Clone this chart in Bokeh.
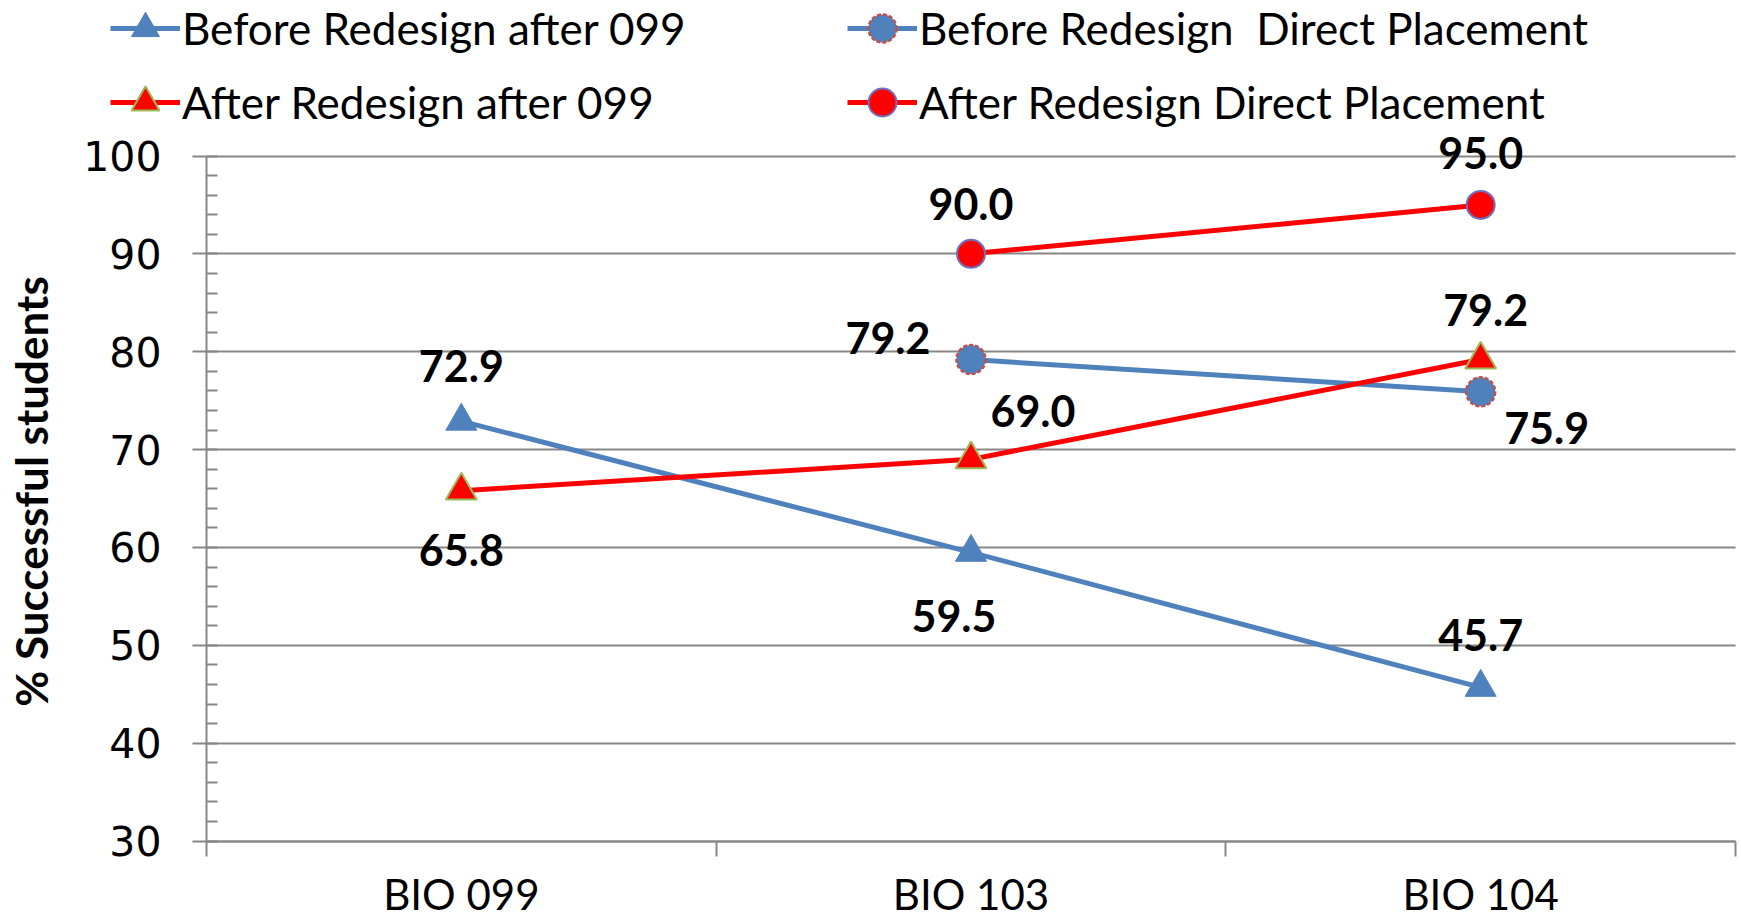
from bokeh.plotting import figure
from bokeh.models import (ColumnDataSource, Range1d, Legend, LegendItem, FixedTicker,
                          SingleIntervalTicker, Label)
from bokeh.core.properties import value
from bokeh.embed import file_html
from bokeh.resources import INLINE

# ---------------- data ----------------
categories = ["BIO 099", "BIO 103", "BIO 104"]
before_after099 = [72.9, 59.5, 45.7]
after_after099 = [65.8, 69.0, 79.2]
before_direct = [None, 79.2, 75.9]
after_direct = [None, 90.0, 95.0]
series_names = ["Before Redesign after 099", "Before Redesign  Direct Placement",
                "After Redesign after 099", "After Redesign Direct Placement"]
y_title = "% Successful students"
y_min, y_max, y_step = 30, 100, 10

# ---------------- layout / style ----------------
W, H = 1741, 921
AX_Y0 = 840.5   # screen px of y_min
AX_Y1 = 155.5   # screen px of y_max
AX_X0 = 206     # screen px of left edge of first category
AX_X1 = 1735    # screen px of right edge of last category
n = len(categories)
ppu = (AX_Y0 - AX_Y1) / (y_max - y_min)
y_start = y_min - (H - AX_Y0) / ppu
y_end = y_max + AX_Y1 / ppu
ppx = (AX_X1 - AX_X0) / n
x_start = -AX_X0 / ppx
x_end = n + (W - AX_X1) / ppx

GRAY = "#878787"
BLUE = "#4F81BD"
RED = "#FF0000"
LBL_FONT = "Lato"

# label offsets in screen px (dx, dy) for each point of each series
off_before_after099 = [(0, -55), (-17, 64), (0, -52)]
off_after_after099 = [(0, 59), (62, -48), (5, -50)]
off_before_direct = [None, (-83, -22), (66, 36)]
off_after_direct = [None, (0, -50), (0, -52)]

p = figure(width=W, height=H, output_backend="svg", toolbar_location=None,
           x_range=Range1d(x_start, x_end), y_range=Range1d(y_start, y_end),
           min_border_left=0, min_border_right=0, min_border_top=0, min_border_bottom=0)
p.outline_line_color = None
p.background_fill_color = "white"
p.border_fill_color = "white"
p.xgrid.visible = False

# x axis (category axis: labels at centers, ticks at boundaries)
xa = p.xaxis[0]
xa.fixed_location = y_min
xa.bounds = (0, n)
xa.ticker = FixedTicker(ticks=[i + 0.5 for i in range(n)], minor_ticks=list(range(n + 1)))
xa.major_label_overrides = {i + 0.5: c for i, c in enumerate(categories)}
xa.major_tick_out = 0
xa.major_tick_in = 0
xa.minor_tick_out = 15
xa.minor_tick_in = 0
xa.minor_tick_line_color = GRAY
xa.minor_tick_line_width = 2
xa.axis_line_color = GRAY
xa.axis_line_width = 2
xa.major_label_text_font = LBL_FONT
xa.major_label_text_font_size = "42px"
xa.major_label_text_color = "black"
xa.major_label_standoff = 13

# y axis
ya = p.yaxis[0]
ya.fixed_location = 0
ya.ticker = SingleIntervalTicker(interval=y_step, num_minor_ticks=5)
ya.bounds = (y_min, y_max)
ya.major_tick_out = 14
ya.major_tick_in = 0
ya.minor_tick_in = 11
ya.minor_tick_out = 0
ya.major_tick_line_color = GRAY
ya.major_tick_line_width = 2
ya.minor_tick_line_color = GRAY
ya.minor_tick_line_width = 2
ya.axis_line_color = GRAY
ya.axis_line_width = 2
ya.major_label_text_font = "DejaVu Sans"
ya.major_label_text_font_size = "41px"
ya.major_label_text_color = "black"
ya.major_label_standoff = 31

p.ygrid.ticker = ya.ticker
p.ygrid.bounds = (y_min, y_max)
p.ygrid.cross_bounds = (0, n)
p.ygrid.grid_line_color = GRAY
p.ygrid.grid_line_width = 2

# y axis title
p.add_layout(Label(x=30, y=H - 491, x_units="screen", y_units="screen", text=y_title,
                   angle=90, angle_units="deg", text_align="center", text_baseline="middle",
                   text_font=LBL_FONT, text_font_style="bold", text_font_size="44px",
                   text_color="black"))


def series(vals, offs):
    xs, ys, txt, dx, dy = [], [], [], [], []
    for i, v in enumerate(vals):
        if v is None:
            continue
        xs.append(i + 0.5)
        ys.append(v)
        txt.append(f"{v:.1f}")
        dx.append(offs[i][0])
        dy.append(offs[i][1])
    return ColumnDataSource(dict(x=xs, y=ys, text=txt, dx=dx, dy=dy))


src_b99 = series(before_after099, off_before_after099)
src_bd = series(before_direct, off_before_direct)
src_a99 = series(after_after099, off_after_after099)
src_ad = series(after_direct, off_after_direct)

l_b99 = p.line("x", "y", source=src_b99, line_color=BLUE, line_width=5)
s_b99 = p.scatter("x", "y", source=src_b99, marker="triangle", size=31,
                  fill_color=BLUE, line_color=BLUE, line_width=1)

l_bd = p.line("x", "y", source=src_bd, line_color=BLUE, line_width=5)
s_bd = p.scatter("x", "y", source=src_bd, marker="circle", size=29,
                 fill_color=BLUE, line_color="#C0504D", line_width=2.5, line_dash="4 2")

l_a99 = p.line("x", "y", source=src_a99, line_color=RED, line_width=5)
s_a99 = p.scatter("x", "y", source=src_a99, marker="triangle", size=31,
                  fill_color=RED, line_color="#9BBB59", line_width=2)

l_ad = p.line("x", "y", source=src_ad, line_color=RED, line_width=5)
s_ad = p.scatter("x", "y", source=src_ad, marker="circle", size=28,
                 fill_color=RED, line_color="#6F6FBF", line_width=2)

for src in (src_b99, src_bd, src_a99, src_ad):
    p.text("x", "y", text="text", source=src, x_offset="dx", y_offset="dy",
           text_font=value(LBL_FONT), text_font_style="bold", text_font_size=value("43px"),
           text_align="center", text_baseline="middle", text_color="black")


def make_legend(items, loc):
    lg = Legend(items=items, location=loc, orientation="vertical")
    lg.glyph_width = 70
    lg.glyph_height = 70
    lg.spacing = 4
    lg.padding = 0
    lg.margin = 0
    lg.label_standoff = 2
    lg.border_line_color = None
    lg.background_fill_alpha = 0
    lg.label_text_font = LBL_FONT
    lg.label_text_font_size = "44px"
    lg.label_text_color = "black"
    return lg


LEG_H = 70 * 2 + 4
leg_top = 28 - 35
leg1 = make_legend([LegendItem(label=series_names[0], renderers=[l_b99, s_b99]),
                    LegendItem(label=series_names[2], renderers=[l_a99, s_a99])],
                   (110, H - leg_top - LEG_H))
leg2 = make_legend([LegendItem(label=series_names[1], renderers=[l_bd, s_bd]),
                    LegendItem(label=series_names[3], renderers=[l_ad, s_ad])],
                   (847, H - leg_top - LEG_H))
p.add_layout(leg1)
p.add_layout(leg2)

open("out.html", "w").write(file_html(p, INLINE))
